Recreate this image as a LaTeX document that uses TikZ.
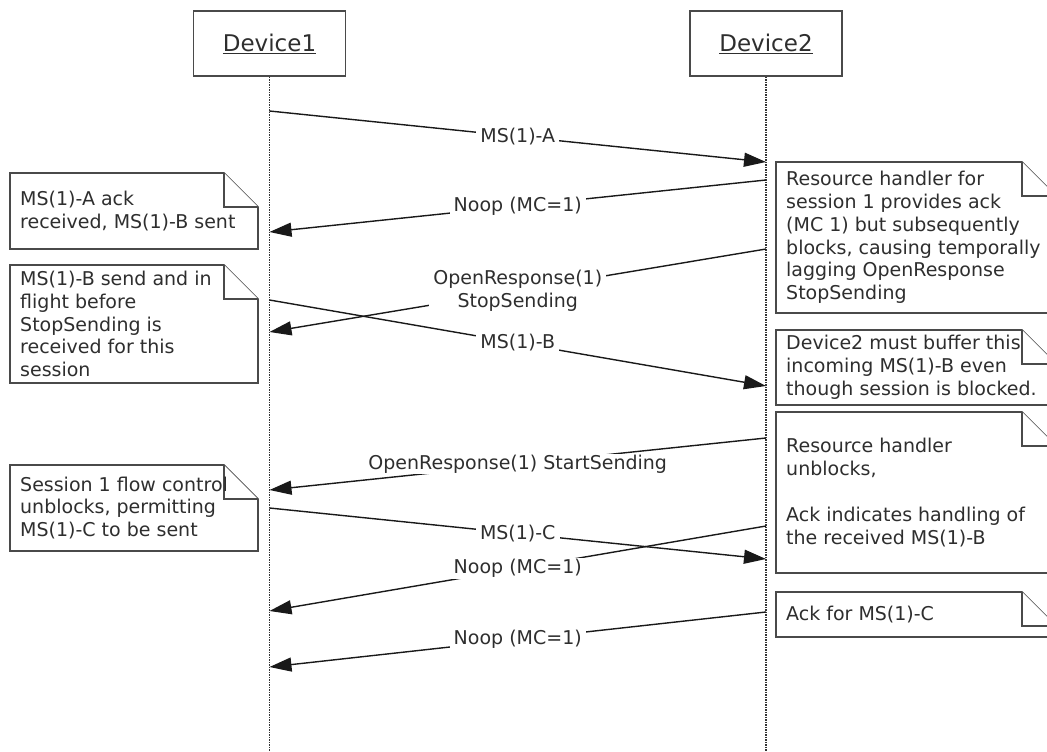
\documentclass[tikz,border=0pt]{standalone}
\usepackage{fontspec}
\setmainfont{DejaVu Sans}
\usetikzlibrary{arrows.meta}
\definecolor{txt}{HTML}{2E2E2E}
\definecolor{frame}{HTML}{4A4A4A}
\newcommand{\mynote}[4]{%
  \draw[notebox] (#1,#2) -- ({#3-34},#2) -- (#3,{#2+34}) -- (#3,#4) -- (#1,#4) -- cycle;
  \draw[notebox] ({#3-34},#2) -- ({#3-34},{#2+34}) -- (#3,{#2+34});
}
\begin{document}
\begin{tikzpicture}[x=1pt,y=-1pt,
  lbl/.style={font=\fontsize{19}{22.8}\selectfont, text=txt, fill=white, inner xsep=4pt, inner ysep=1pt, align=center},
  msg/.style={draw=black!90, line width=1.4pt, -{Triangle[length=22pt,width=14pt]}},
  lifeline/.style={draw=black!80, line width=1.3pt, dash pattern=on 1.3pt off 1.2pt},
  devbox/.style={draw=frame, line width=1.7pt, minimum width=152pt, minimum height=65pt, font=\fontsize{23}{27}\selectfont, text=txt},
  notetext/.style={font=\fontsize{19}{22.8}\selectfont, text=txt, align=left, anchor=west, inner sep=0pt},
  notebox/.style={draw=frame, line width=1.7pt, fill=white, line join=miter}]
\useasboundingbox (0,0) rectangle (1047,752);
\clip (0,0) rectangle (1047,752);

% devices and lifelines
\node[devbox] (d1) at (269.5,43.5) {\underline{Device1}};
\node[devbox] (d2) at (766,43.5) {\underline{Device2}};
\coordinate (l1) at (269.5,752);
\coordinate (l2) at (766,752);
\draw[lifeline] (d1.south) -- (l1);
\draw[lifeline] (d2.south) -- (l2);

% notes
\mynote{10}{173}{258}{249}
\node[notetext] (n1) at (20,211) {MS(1)-A ack\\received, MS(1)-B sent};
\mynote{10}{265}{258}{383}
\node[notetext] (n2) at (20,324) {MS(1)-B send and in\\flight before\\StopSending is\\received for this\\session};
\mynote{10}{465}{258}{551}
\node[notetext] (n3) at (20,508) {Session 1 flow control\\unblocks, permitting\\MS(1)-C to be sent};
\mynote{776}{162}{1056}{313}
\node[notetext] (n4) at (786,237.5) {Resource handler for\\session 1 provides ack\\(MC 1) but subsequently\\blocks, causing temporally\\lagging OpenResponse\\StopSending};
\mynote{776}{330}{1056}{405}
\node[notetext] (n5) at (786,367.5) {Device2 must buffer this\\incoming MS(1)-B even\\though session is blocked.};
\mynote{776}{412}{1056}{573}
\node[notetext] (n6) at (786,492.5) {Resource handler\\unblocks,\\[22.8pt]Ack indicates handling of\\the received MS(1)-B};
\mynote{776}{592}{1056}{637}
\node[notetext] (n7) at (786,614.5) {Ack for MS(1)-C};

% message end points
\coordinate (a1s) at (269.5,111);  \coordinate (a1e) at (766,162);
\coordinate (a2s) at (766,180);    \coordinate (a2e) at (269.5,232);
\coordinate (a3s) at (766,249);    \coordinate (a3e) at (269.5,332);
\coordinate (a4s) at (269.5,300);  \coordinate (a4e) at (766,386);
\coordinate (a5s) at (766,438);    \coordinate (a5e) at (269.5,490);
\coordinate (a6s) at (269.5,508);  \coordinate (a6e) at (766,559);
\coordinate (a7s) at (766,526);    \coordinate (a7e) at (269.5,611);
\coordinate (a8s) at (766,612);    \coordinate (a8e) at (269.5,667);

% messages
\draw[msg] (a1s) -- node[lbl] (m1) {MS(1)-A} (a1e);
\draw[msg] (a2s) -- node[lbl] (m2) {Noop (MC=1)} (a2e);
\draw[msg] (a3s) -- node[lbl] (m3) {OpenResponse(1)\\StopSending} (a3e);
\draw[msg] (a4s) -- node[lbl] (m4) {MS(1)-B} (a4e);
\draw[msg] (a5s) -- node[lbl] (m5) {OpenResponse(1) StartSending} (a5e);
\draw[msg] (a6s) -- node[lbl] (m6) {MS(1)-C} (a6e);
\draw[msg] (a7s) -- node[lbl] (m7) {Noop (MC=1)} (a7e);
\draw[msg] (a8s) -- node[lbl] (m8) {Noop (MC=1)} (a8e);
\end{tikzpicture}
\end{document}
